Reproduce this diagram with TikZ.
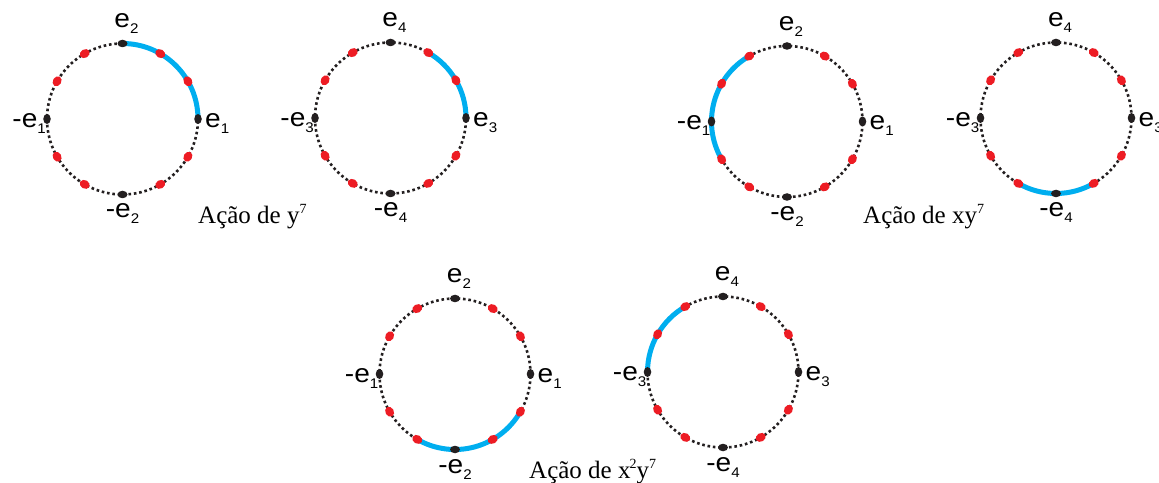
\documentclass[tikz,border=0pt]{standalone}
\usepackage{fontspec}
\setmainfont{Liberation Serif}
\newfontfamily\labfont[FakeStretch=1.08]{Liberation Sans}
\usetikzlibrary{shapes.geometric}
\definecolor{arcblue}{RGB}{0,174,239}
\definecolor{dotred}{RGB}{237,28,36}
\definecolor{dotblack}{RGB}{35,31,32}
\newcommand{\lbl}[2]{\labfont\fontsize{26}{26}\selectfont #1\raisebox{-6pt}{\fontsize{14}{14}\selectfont #2}}
\newcommand{\sps}[1]{\raisebox{10pt}{\fontsize{14}{14}\selectfont #1}}
\newcommand{\wheel}[6]{%
\begin{scope}[shift={#2}]
 \draw[ring] (0,0) circle[radius=75.5];
 \draw[arcpath] (#3:75.5) arc[start angle=#3, end angle=#4, radius=75.5];
 \foreach \a in {30,60,120,150,210,240,300,330} \node[rdot, rotate=\a] (#1-\a) at (\a:75.5) {};
 \foreach \a in {0,90,180,270} \node[bdot, rotate=\a] (#1-\a) at (\a:75.5) {};
 \node[lab, anchor=base west] (#1-r) at ([shift={(7,-8.5)}]#1-0.center) {\lbl{e}{#5}};
 \node[lab, anchor=base east] (#1-l) at ([shift={(-1,-8.5)}]#1-180.center) {\lbl{-e}{#5}};
 \node[lab, anchor=base] (#1-t) at ([shift={(4,15.7)}]#1-90.center) {\lbl{e}{#6}};
 \node[lab, anchor=base] (#1-b) at ([shift={(0,-23.5)}]#1-270.center) {\lbl{-e}{#6}};
\end{scope}}
\begin{document}
\begin{tikzpicture}[x=1pt,y=1pt,
 ring/.style={line width=2.6pt, dash pattern=on 2.6pt off 2.8pt, dotblack},
 arcpath/.style={line width=5pt, arcblue},
 bdot/.style={ellipse, fill=dotblack, inner sep=0pt, minimum width=7.5pt, minimum height=10pt},
 rdot/.style={ellipse, fill=dotred, inner sep=0pt, minimum width=8.5pt, minimum height=10.5pt},
 lab/.style={inner sep=0pt},
 ttl/.style={inner sep=0pt, anchor=base west, font=\fontsize{25}{25}\selectfont}]
\useasboundingbox (0,0) rectangle (1159,482);
\wheel{a}{(122.5,363)}{0}{90}{1}{2}
\wheel{b}{(390.5,364)}{0}{60}{3}{4}
\wheel{c}{(787,360.5)}{120}{210}{1}{2}
\wheel{d}{(1056,364)}{240}{300}{3}{4}
\wheel{e}{(455,108)}{240}{330}{1}{2}
\wheel{f}{(723,110)}{120}{180}{3}{4}
\node[ttl] (t1) at (198,258) {Ação de y\sps{7}};
\node[ttl] (t2) at (863,258) {Ação de xy\sps{7}};
\node[ttl] (t3) at (529,4) {Ação de x\kern-1pt\sps{2}y\sps{7}};
\end{tikzpicture}
\end{document}
